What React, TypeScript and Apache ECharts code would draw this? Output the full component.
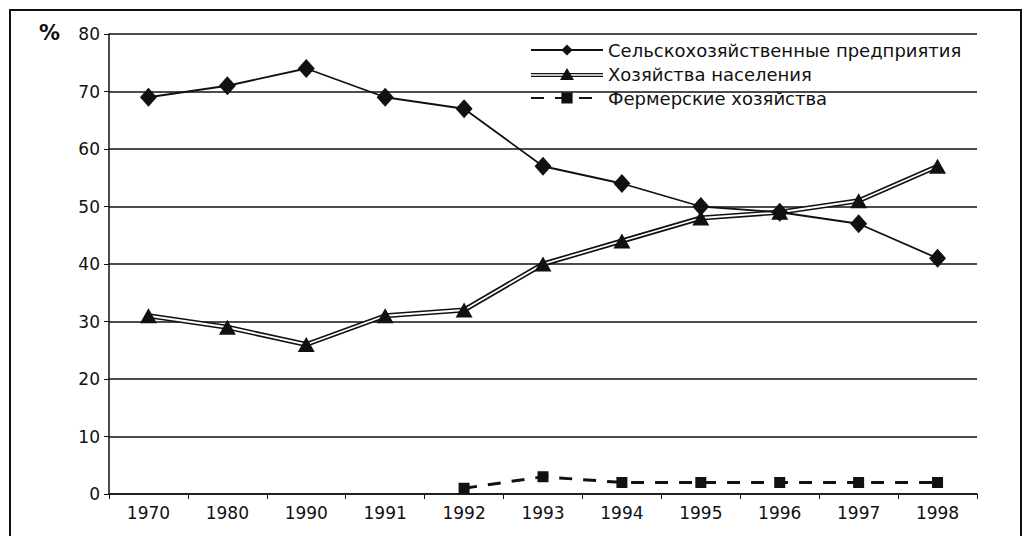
import React, { useEffect, useRef } from "react";
import * as echarts from "echarts";

const years = ["1970", "1980", "1990", "1991", "1992", "1993", "1994", "1995", "1996", "1997", "1998"];
const agriEnterprises = [69, 71, 74, 69, 67, 57, 54, 50, 49, 47, 41];
const households = [31, 29, 26, 31, 32, 40, 44, 48, 49, 51, 57];
const farms = [null, null, null, null, 1, 3, 2, 2, 2, 2, 2];
const seriesNames = ["Сельскохозяйственные предприятия", "Хозяйства населения", "Фермерские хозяйства"];
const yTicks = { min: 0, max: 80, interval: 10 };

const FONT = "DejaVu Sans";

export default function App() {
  const ref = useRef<HTMLDivElement>(null);
  useEffect(() => {
    if (!ref.current) return;
    const chart = echarts.init(ref.current, null, { renderer: "svg" });
    const doubleIcon =
      "path://M0,5 L72,5 L72,6.3 L0,6.3 Z M0,7.7 L72,7.7 L72,9 L0,9 Z M36,0 L43,12 L29,12 Z";
    chart.setOption({
      animation: false,
      backgroundColor: "#fff",
      textStyle: { fontFamily: FONT, color: "#111" },
      grid: { left: 109, right: 48, top: 34, bottom: 42, containLabel: false },
      legend: {
        orient: "vertical",
        left: 530,
        top: 41,
        itemWidth: 72,
        itemHeight: 14,
        itemGap: 6,
        padding: 0,
        textStyle: { fontFamily: FONT, fontSize: 18, color: "#111" },
        data: [
          { name: seriesNames[0] },
          { name: seriesNames[1], icon: doubleIcon },
          { name: seriesNames[2] },
        ],
      },
      xAxis: {
        type: "category",
        data: years,
        boundaryGap: true,
        axisLine: { lineStyle: { color: "#111", width: 1.5 } },
        axisTick: { show: true, inside: false, length: 5, lineStyle: { color: "#111" } },
        axisLabel: { color: "#111", fontSize: 17, fontFamily: FONT, margin: 10 },
      },
      yAxis: {
        type: "value",
        min: yTicks.min,
        max: yTicks.max,
        interval: yTicks.interval,
        axisLine: { show: true, lineStyle: { color: "#111", width: 1.5 } },
        axisTick: { show: true, length: 5, lineStyle: { color: "#111" } },
        axisLabel: { color: "#111", fontSize: 17, fontFamily: FONT, margin: 9 },
        splitLine: { show: true, lineStyle: { color: "#111", width: 1.5 } },
      },
      graphic: [
        {
          type: "rect",
          shape: { x: 10, y: 10, width: 1011, height: 600 },
          style: { fill: "none", stroke: "#111", lineWidth: 2 },
          silent: true,
        },
        {
          type: "text",
          left: 39,
          top: 22,
          style: { text: "%", fontSize: 21, fontWeight: "bold", fontFamily: FONT, fill: "#111" },
        },
      ],
      series: [
        {
          name: seriesNames[0],
          type: "line",
          data: agriEnterprises,
          symbol: "diamond",
          symbolSize: [17, 19],
          itemStyle: { color: "#111" },
          lineStyle: { color: "#111", width: 1.8 },
          z: 5,
        },
        {
          name: seriesNames[1],
          type: "line",
          data: households,
          symbol: "triangle",
          symbolSize: [17, 15],
          showSymbol: false,
          itemStyle: { color: "#111" },
          lineStyle: { color: "#111", width: 5 },
          z: 2,
        },
        {
          name: "households-inner",
          type: "line",
          data: households,
          showSymbol: false,
          symbol: "none",
          lineStyle: { color: "#fff", width: 1.8 },
          z: 3,
          silent: true,
        },
        {
          name: "households-markers",
          type: "line",
          data: households,
          symbol: "triangle",
          symbolSize: [17, 15],
          itemStyle: { color: "#111" },
          lineStyle: { opacity: 0 },
          z: 4,
          silent: true,
        },
        {
          name: seriesNames[2],
          type: "line",
          data: farms,
          symbol: "rect",
          symbolSize: 11,
          itemStyle: { color: "#111" },
          lineStyle: { color: "#111", width: 3, type: [13, 11] },
          z: 5,
        },
      ],
    });
    return () => chart.dispose();
  }, []);
  return <div ref={ref} style={{ width: 1025, height: 536, position: "absolute", left: 0, top: 0 }} />;
}
